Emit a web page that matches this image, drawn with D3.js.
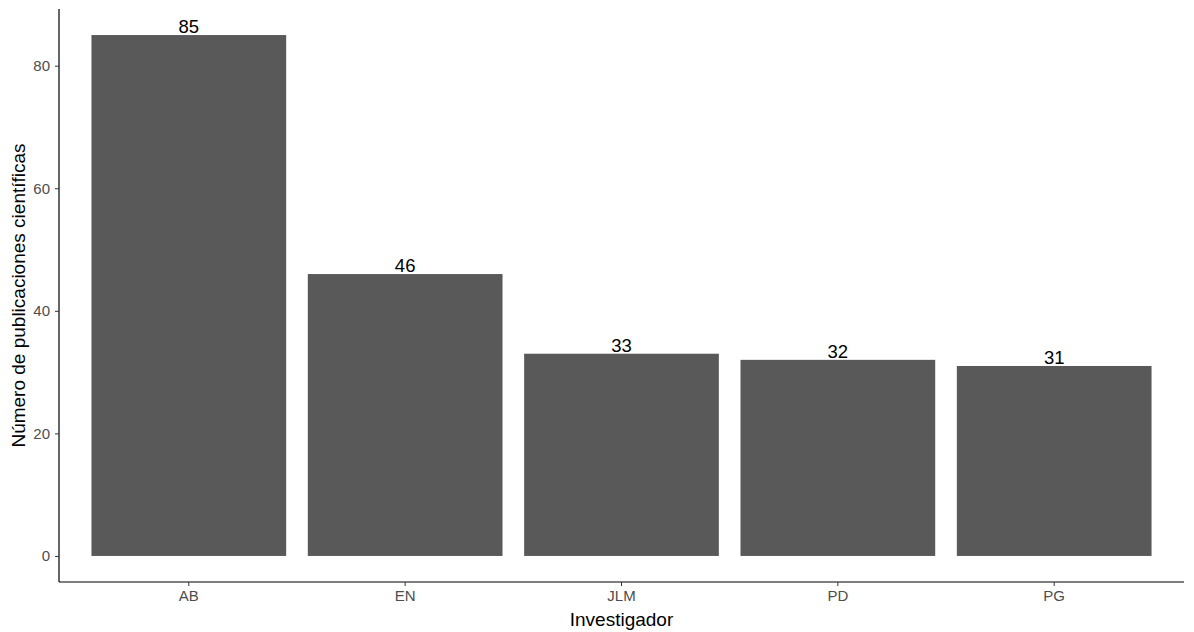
<!DOCTYPE html>
<html>
<head>
<meta charset="utf-8">
<script src="https://cdn.jsdelivr.net/npm/d3@7"></script>
<style>
  body { margin: 0; background: #fff; }
  text { font-family: Arial, "Liberation Sans", sans-serif; }
</style>
</head>
<body>
<div id="chart"></div>
<script>
// données
const investigadores = ["AB", "EN", "JLM", "PD", "PG"];
const publicaciones = [85, 46, 33, 32, 31];
const yTicks = [0, 20, 40, 60, 80];

const width = 1194, height = 632;
const margin = { top: 9, right: 10, bottom: 50, left: 59 };

const svg = d3.select("#chart").append("svg")
    .attr("width", width)
    .attr("height", height);

// échelles (expansion façon ggplot)
const x = d3.scaleBand()
    .domain(investigadores)
    .range([margin.left, width - margin.right])
    .paddingInner(0.1)
    .paddingOuter(0.15);

const yMax = d3.max(publicaciones);
const y = d3.scaleLinear()
    .domain([-yMax * 0.05, yMax * 1.05])
    .range([height - margin.bottom, margin.top]);

// barres
svg.append("g")
    .selectAll("rect")
    .data(investigadores)
    .join("rect")
    .attr("x", d => x(d))
    .attr("width", x.bandwidth())
    .attr("y", (d, i) => y(publicaciones[i]))
    .attr("height", (d, i) => y(0) - y(publicaciones[i]))
    .attr("fill", "#595959");

// étiquettes
svg.append("g")
    .selectAll("text")
    .data(investigadores)
    .join("text")
    .attr("x", d => x(d) + x.bandwidth() / 2)
    .attr("y", (d, i) => y(publicaciones[i]) - 2)
    .attr("text-anchor", "middle")
    .attr("font-size", 18.5)
    .attr("fill", "#000")
    .text((d, i) => publicaciones[i]);

// axe x
const gx = svg.append("g")
    .attr("transform", "translate(0," + (height - margin.bottom) + ")")
    .call(d3.axisBottom(x).tickSize(4).tickPadding(4));
gx.select(".domain").attr("stroke", "#000").attr("stroke-width", 1.2)
    .attr("d", "M" + margin.left + ",0H" + (width - margin.right));
gx.selectAll(".tick line").attr("stroke", "#333");
gx.selectAll(".tick text").attr("font-size", 15).attr("fill", "#4d4d4d")
    .attr("font-family", "Arial, 'Liberation Sans', sans-serif");

// axe y
const gy = svg.append("g")
    .attr("transform", "translate(" + margin.left + ",0)")
    .call(d3.axisLeft(y).tickValues(yTicks).tickSize(4).tickPadding(5));
gy.select(".domain").attr("stroke", "#000").attr("stroke-width", 1.2)
    .attr("d", "M0," + margin.top + "V" + (height - margin.bottom));
gy.selectAll(".tick line").attr("stroke", "#333");
gy.selectAll(".tick text").attr("font-size", 15).attr("fill", "#4d4d4d")
    .attr("font-family", "Arial, 'Liberation Sans', sans-serif");

// titres des axes
svg.append("text")
    .attr("x", (margin.left + width - margin.right) / 2)
    .attr("y", 626)
    .attr("text-anchor", "middle")
    .attr("font-size", 19)
    .text("Investigador");

svg.append("text")
    .attr("transform", "translate(25," + ((margin.top + height - margin.bottom) / 2) + ") rotate(-90)")
    .attr("text-anchor", "middle")
    .attr("font-size", 19)
    .text("Número de publicaciones científicas");
</script>
</body>
</html>
